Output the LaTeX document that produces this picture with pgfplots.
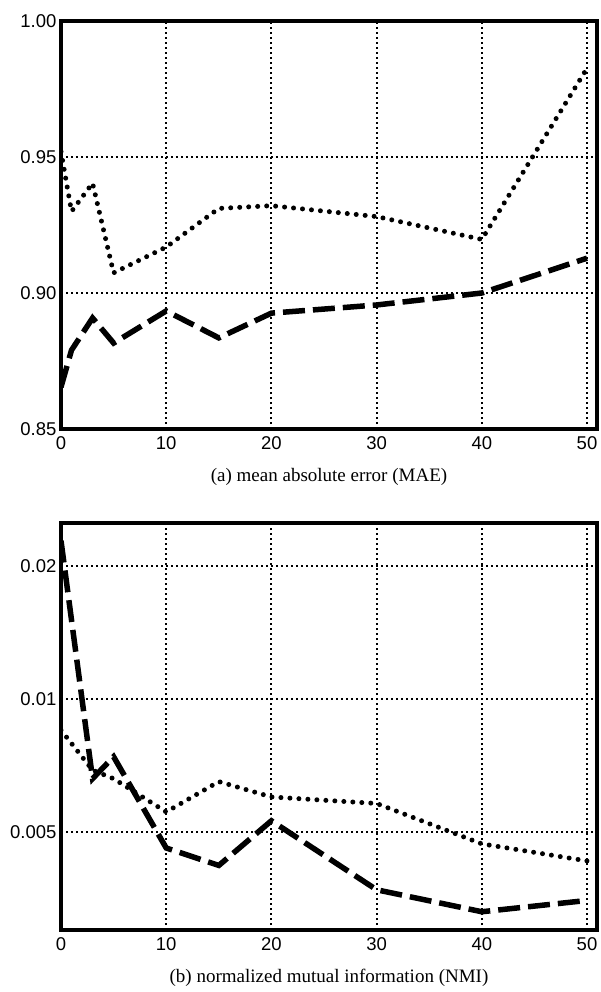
\documentclass[border=0pt]{standalone}
\usepackage{fontspec}
\setmainfont{Liberation Serif}
\newfontfamily\helv{Liberation Sans}
\usepackage{pgfplots}
\pgfplotsset{compat=1.18}
\begin{document}
\begin{tikzpicture}
\useasboundingbox (0pt,0pt) rectangle (600pt,-992pt);
\pgfplotsset{
 myax/.style={scale only axis, width=536pt, xmin=0, xmax=50.95,
  xtick={0,10,20,30,40,50}, xticklabels={0,10,20,30,40,50},
  grid=major, grid style={black, line width=2pt, dash pattern=on 2pt off 3pt},
  axis line style={line width=3.2pt}, major tick length=0pt,
  tick label style={font=\helv\fontsize{18.5}{21}\selectfont},
  yticklabel style={xshift=-1pt}, xticklabel style={yshift=-4pt},
  xlabel style={font=\fontsize{19}{22}\selectfont, at={(axis description cs:0.5,0)}, anchor=center, yshift=-48pt},
 },
 dotser/.style={black, line width=5pt, line cap=round, dash pattern=on 0pt off 9pt},
 dashser/.style={black, line width=5.5pt, dash pattern=on 22pt off 8pt},
}
\begin{axis}[myax, at={(61pt,-429pt)}, anchor=south west, height=408pt,
  ymin=0.85, ymax=1.00, ytick={0.85,0.90,0.95,1.00}, yticklabels={0.85,0.90,0.95,1.00},
  xlabel={(a) mean absolute error (MAE)}]
\addplot[dotser] coordinates {(0,0.952)(1,0.930)(3,0.9404)(5,0.9074)(10,0.9169)(15,0.9311)(20,0.9321)(30,0.9281)(40,0.9197)(50,0.9826)};
\addplot[dashser] coordinates {(0,0.8654)(1,0.879)(3,0.8908)(5,0.8816)(10,0.8934)(15,0.8835)(20,0.8926)(30,0.8956)(40,0.900)(50,0.9128)};
\end{axis}
\begin{axis}[myax, at={(61pt,-930pt)}, anchor=south west, height=407pt,
  ymode=log, ymin=0.003, ymax=0.025, ytick={0.005,0.01,0.02}, yticklabels={0.005,0.01,0.02},
  xlabel={(b) normalized mutual information (NMI)}]
\addplot[dotser] coordinates {(0,0.0085)(3,0.0069)(5,0.0066)(10,0.00555)(15,0.0065)(20,0.0060)(30,0.0058)(40,0.0047)(50,0.0043)};
\addplot[dashser] coordinates {(0,0.0228)(3,0.0066)(5,0.0074)(10,0.0046)(15,0.0042)(20,0.0053)(30,0.0037)(40,0.0033)(50,0.0035)};
\end{axis}
\end{tikzpicture}
\end{document}
